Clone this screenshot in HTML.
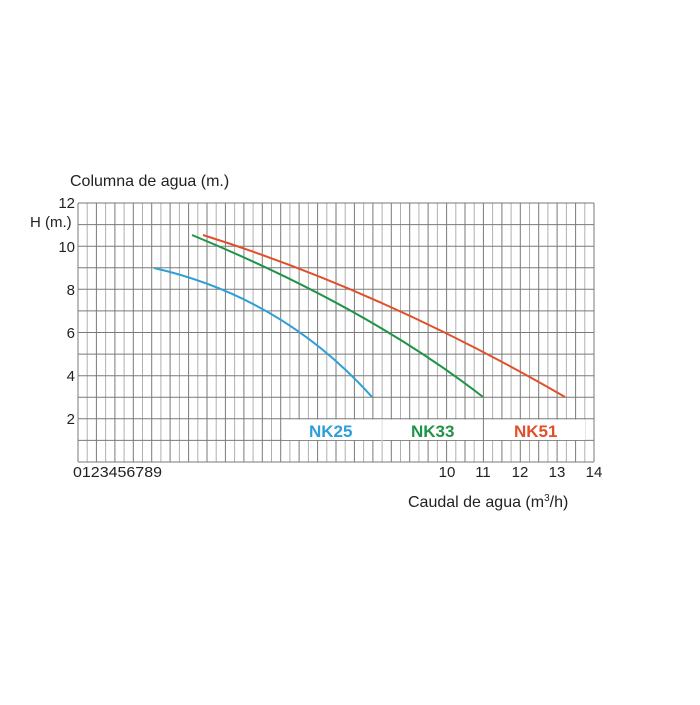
<!DOCTYPE html>
<html><head><style>
body{margin:0;background:#fff;width:700px;height:700px;overflow:hidden;font-family:"Liberation Sans",sans-serif}
</style></head><body>
<svg width="700" height="700" xmlns="http://www.w3.org/2000/svg" font-family="Liberation Sans, sans-serif">
<path fill="none" stroke="#b0b0b0" stroke-width="1" d="M87.2,203V462M105.6,203V462M124.1,203V462M142.5,203V462M160.9,203V462M179.4,203V462M197.8,203V462M216.2,203V462M234.6,203V462M253.1,203V462M271.5,203V462M289.9,203V462M308.4,203V462M326.8,203V462M345.2,203V462M363.6,203V462M382.1,203V462M400.5,203V462M418.9,203V462M437.4,203V462M455.8,203V462M474.2,203V462M492.6,203V462M511.1,203V462M529.5,203V462M547.9,203V462M566.4,203V462M584.8,203V462"/>
<path fill="none" stroke="#7a7a7a" stroke-width="1" d="M78,203V462M96.4,203V462M114.9,203V462M133.3,203V462M151.7,203V462M170.1,203V462M188.6,203V462M207,203V462M225.4,203V462M243.9,203V462M262.3,203V462M280.7,203V462M299.1,203V462M317.6,203V462M336,203V462M354.4,203V462M372.9,203V462M391.3,203V462M409.7,203V462M428.1,203V462M446.6,203V462M465,203V462M483.4,203V462M501.9,203V462M520.3,203V462M538.7,203V462M557.1,203V462M575.6,203V462M594,203V462
M78,203H594M78,224.6H594M78,246.2H594M78,267.8H594M78,289.3H594M78,310.9H594M78,332.5H594M78,354.1H594M78,375.7H594M78,397.2H594M78,418.8H594M78,440.4H594M78,462H594"/>
<rect x="283" y="419.5" width="302" height="20.5" fill="#fff"/>
<line x1="483.4" y1="419" x2="483.4" y2="441" stroke="#7a7a7a"/>
<line x1="382.1" y1="419" x2="382.1" y2="441" stroke="#ddd"/>
<g fill="none" stroke-width="2">
<path d="M154,268 Q283,297.5 372,397" stroke="#2e9fd8"/>
<path d="M192,235 Q368.5,308 483,397" stroke="#1f9448"/>
<path d="M203,235 Q384,292 565,397" stroke="#e0502a"/>
</g>
<g font-weight="bold" font-size="17">
<text x="309" y="437" fill="#2e9fd8">NK25</text>
<text x="411" y="437" fill="#1f9448">NK33</text>
<text x="514" y="437" fill="#e0502a">NK51</text>
</g>
<g font-size="15" fill="#222">
<text x="70" y="186" font-size="16">Columna de agua (m.)</text>
<text x="30" y="227">H (m.)</text>
<g text-anchor="end">
<text x="75" y="208">12</text><text x="75" y="252">10</text><text x="75" y="295">8</text>
<text x="75" y="338">6</text><text x="75" y="381">4</text><text x="75" y="424">2</text>
</g>
<text x="73" y="477" textLength="89" lengthAdjust="spacingAndGlyphs">0123456789</text>
<g text-anchor="middle">
<text x="447" y="477">10</text><text x="483" y="477">11</text><text x="520" y="477">12</text>
<text x="557" y="477">13</text><text x="594" y="477">14</text>
</g>
<text x="408" y="507" font-size="16">Caudal de agua (m<tspan font-size="10" dy="-6">3</tspan><tspan dy="6">/h)</tspan></text>
</g>
</svg>
</body></html>
